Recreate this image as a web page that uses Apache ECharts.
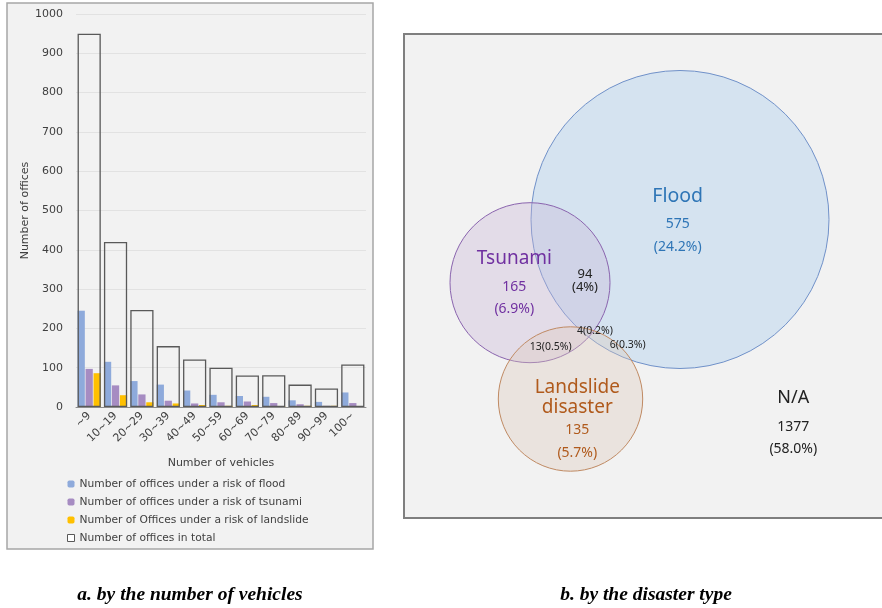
<!DOCTYPE html>
<html>
<head>
<meta charset="utf-8">
<script src="https://cdn.jsdelivr.net/npm/echarts@6/dist/echarts.min.js"></script>
<style>
html,body{margin:0;padding:0;background:#ffffff;}
#chart{width:882px;height:608px;}
</style>
</head>
<body>
<div id="chart"></div>
<script>
// ---- Panel a: offices by number of vehicles ----
const vehicleBands = ['~9','10~19','20~29','30~39','40~49','50~59','60~69','70~79','80~89','90~99','100~'];
const floodOffices = [245,115,66,57,42,31,28,26,17,13,37];
const tsunamiOffices = [97,55,32,16,9,12,14,10,7,3,10];
const landslideOffices = [86,30,12,9,5,3,5,2,3,3,0];
const totalOffices = [950,420,247,155,121,100,80,81,57,47,108];
const yTicks = {min:0, max:1000, interval:100};

// ---- Panel b: offices by disaster type (Venn) ----
const disasterTypes = ['Flood','Tsunami','Landslide\ndisaster','N/A'];
const exclusiveCounts = [575,165,135,1377];
const exclusiveShares = ['24.2','6.9','5.7','58.0'];
const overlapCounts = [94,4,13,6];
const overlapShares = ['4','0.2','0.5','0.3'];

// layout (positions/sizes) kept separately
const circleLayout = [[276,185.5,149],[126,248.7,80],[166.5,365,72.2]];
const circleStyles = [
  {fill:'rgba(190,215,238,0.55)', stroke:'#7091c9'},
  {fill:'rgba(200,180,215,0.35)', stroke:'#8a64ae'},
  {fill:'rgba(220,200,185,0.35)', stroke:'#c08a63'}
];
const setLabelLayout = [
  {x:273.7, t:162.7, c:190.3, tSize:19.5, color:'#2e75b6'},
  {x:110.3, t:225, c:252.7, tSize:19, color:'#7030a0'},
  {x:173.3, t:363.3, c:396.3, tSize:19, color:'#b05a1c'},
  {x:389.3, t:364, c:392.7, tSize:18, color:'#222222'}
];
const overlapLabelLayout = [
  {x:181, y:246.5, size:13, twoLine:true},
  {x:191, y:297, size:10.5},
  {x:146.7, y:312.7, size:10.5},
  {x:223.7, y:310.7, size:10.5}
];

const chart = echarts.init(document.getElementById('chart'), null, {renderer:'canvas'});
const baseFont = 'DejaVu Sans';
const vennFont = 'Noto Sans';
const tickColor = '#404040';
const fs = 11;

const vennW = 478, vennH = 484;

const option = {
  backgroundColor:'#ffffff',
  animation:false,
  textStyle:{fontFamily:baseFont},
  graphic:[
    {type:'rect', z:-10, shape:{x:7, y:3, width:366, height:546}, style:{fill:'#f2f2f2', stroke:'#a6a6a6', lineWidth:1.5}},
    {type:'rect', z:-10, shape:{x:404, y:34, width:500, height:484}, style:{fill:'#f2f2f2', stroke:'#7f7f7f', lineWidth:2}},
    {type:'text', x:190, y:595, style:{text:'a. by the number of vehicles', font:'italic bold 19.5px "Liberation Serif"', fill:'#000', textAlign:'center', textVerticalAlign:'middle'}},
    {type:'text', x:646, y:595, style:{text:'b. by the disaster type', font:'italic bold 19.5px "Liberation Serif"', fill:'#000', textAlign:'center', textVerticalAlign:'middle'}}
  ],
  legend:{
    orient:'vertical', left:62, top:472, itemWidth:7, itemHeight:7, itemGap:4,
    textStyle:{fontFamily:baseFont, fontSize:10.7, color:tickColor, lineHeight:14},
    data:[
      'Number of offices under a risk of flood',
      'Number of offices under a risk of tsunami',
      'Number of Offices under a risk of landslide',
      {name:'Number of offices in total', icon:'rect', itemStyle:{color:'#ffffff', borderColor:'#595959', borderWidth:1}}
    ]
  },
  grid:[
    {left:76, top:14, width:290, height:393},
    {left:404, top:34, width:vennW, height:vennH, show:false}
  ],
  xAxis:[
    {type:'category', gridIndex:0, data:vehicleBands,
     axisLine:{lineStyle:{color:'#8c8c8c'}}, axisTick:{show:false},
     axisLabel:{rotate:45, margin:7, fontSize:fs, color:tickColor, fontFamily:baseFont, interval:0},
     name:'Number of vehicles', nameLocation:'middle', nameGap:51,
     nameTextStyle:{fontSize:fs, color:tickColor, fontFamily:baseFont}},
    {type:'category', gridIndex:0, data:vehicleBands, show:false},
    {type:'value', gridIndex:1, min:0, max:vennW, show:false}
  ],
  yAxis:[
    {type:'value', gridIndex:0, min:yTicks.min, max:yTicks.max, interval:yTicks.interval,
     axisLine:{show:false}, axisTick:{show:false},
     axisLabel:{fontSize:fs, color:tickColor, margin:13, fontFamily:baseFont, formatter:function(v){return String(v);}},
     splitLine:{lineStyle:{color:'#e2e2e2'}},
     name:'Number of offices', nameLocation:'middle', nameGap:45, nameRotate:90,
     nameTextStyle:{fontSize:fs, color:tickColor, fontFamily:baseFont}},
    {type:'value', gridIndex:1, min:0, max:vennH, inverse:true, show:false}
  ],
  series:[
    {name:'Number of offices under a risk of flood', type:'bar', xAxisIndex:0, yAxisIndex:0,
     data:floodOffices, itemStyle:{color:'#8eaadb'}, barGap:'10%', barCategoryGap:'12%'},
    {name:'Number of offices under a risk of tsunami', type:'bar', xAxisIndex:0, yAxisIndex:0,
     data:tsunamiOffices, itemStyle:{color:'#a68cc2'}},
    {name:'Number of Offices under a risk of landslide', type:'bar', xAxisIndex:0, yAxisIndex:0,
     data:landslideOffices, itemStyle:{color:'#ffc000'}},
    {name:'Number of offices in total', type:'bar', xAxisIndex:1, yAxisIndex:0, z:5,
     data:totalOffices, barCategoryGap:'12%',
     itemStyle:{color:'rgba(0,0,0,0)', borderColor:'#595959', borderWidth:1.3}},
    {type:'custom', xAxisIndex:2, yAxisIndex:1, silent:true, clip:false,
     data:circleLayout.map((c,i)=>[c[0],c[1],c[2],i]),
     renderItem:function(params, api){
       const p = api.coord([api.value(0), api.value(1)]);
       const r = api.size([api.value(2), 0])[0];
       const st = circleStyles[api.value(3)];
       return {type:'circle', shape:{cx:p[0], cy:p[1], r:r}, style:{fill:st.fill, stroke:st.stroke, lineWidth:1}};
     }},
    {type:'custom', xAxisIndex:2, yAxisIndex:1, silent:true, z:10,
     data:disasterTypes.map((n,i)=>[setLabelLayout[i].x, setLabelLayout[i].t, i]),
     renderItem:function(params, api){
       const i = api.value(2);
       const L = setLabelLayout[i];
       const pt = api.coord([L.x, L.t]);
       const pc = api.coord([L.x, L.c]);
       const pp = api.coord([L.x, L.c + 22.4]);
       return {type:'group', children:[
         {type:'text', style:{x:pt[0], y:pt[1], text:disasterTypes[i], fill:L.color, font:L.tSize+'px "'+vennFont+'"', align:'center', verticalAlign:'middle', lineHeight:20}},
         {type:'text', style:{x:pc[0], y:pc[1], text:String(exclusiveCounts[i]), fill:L.color, font:'14px "'+vennFont+'"', align:'center', verticalAlign:'middle'}},
         {type:'text', style:{x:pp[0], y:pp[1], text:'('+exclusiveShares[i]+'%)', fill:L.color, font:'14px "'+vennFont+'"', align:'center', verticalAlign:'middle'}}
       ]};
     }},
    {type:'custom', xAxisIndex:2, yAxisIndex:1, silent:true, z:10,
     data:overlapCounts.map((n,i)=>[overlapLabelLayout[i].x, overlapLabelLayout[i].y, i]),
     renderItem:function(params, api){
       const i = api.value(2);
       const L = overlapLabelLayout[i];
       const p = api.coord([L.x, L.y]);
       const txt = L.twoLine ? (overlapCounts[i]+'\n('+overlapShares[i]+'%)') : (overlapCounts[i]+'('+overlapShares[i]+'%)');
       return {type:'text', style:{x:p[0], y:p[1], text:txt, fill:'#222222', font:L.size+'px "'+vennFont+'"', align:'center', verticalAlign:'middle', lineHeight:L.size}};
     }}
  ]
};
chart.setOption(option);
</script>
</body>
</html>
